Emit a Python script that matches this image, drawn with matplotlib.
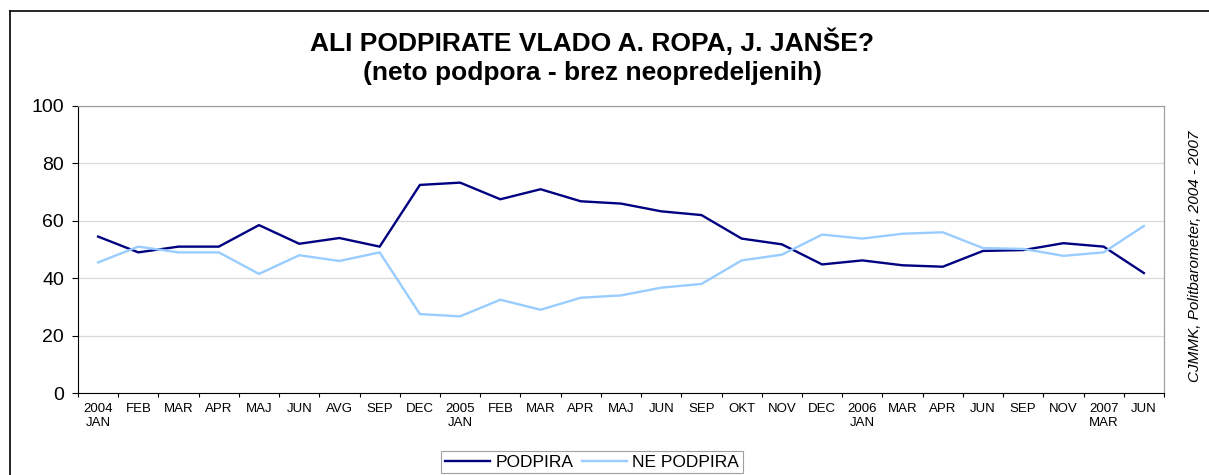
import numpy as np
import matplotlib.pyplot as plt
from matplotlib.lines import Line2D

plt.rcParams['font.family'] = ['Liberation Sans', 'DejaVu Sans']

months = ['2004\nJAN', 'FEB', 'MAR', 'APR', 'MAJ', 'JUN', 'AVG', 'SEP', 'DEC',
          '2005\nJAN', 'FEB', 'MAR', 'APR', 'MAJ', 'JUN', 'SEP', 'OKT', 'NOV', 'DEC',
          '2006\nJAN', 'MAR', 'APR', 'JUN', 'SEP', 'NOV', '2007\nMAR', 'JUN']

podpira = [54.5, 49, 51, 51, 58.5, 52, 54, 51, 72.5, 73.3, 67.5, 71, 66.8, 66,
           63.3, 62, 53.8, 51.8, 44.8, 46.2, 44.5, 44, 49.5, 49.8, 52.2, 51, 41.8]
ne_podpira = [45.5, 51, 49, 49, 41.5, 48, 46, 49, 27.5, 26.7, 32.5, 29, 33.2, 34,
              36.7, 38, 46.2, 48.2, 55.2, 53.8, 55.5, 56, 50.5, 50.2, 47.8, 49, 58.2]


def main():
    fig = plt.figure(figsize=(12.09, 4.75), dpi=100)
    # plot area: x 78..1164 px, y 106..393 px
    ax = fig.add_axes([78 / 1209, 1 - 393 / 475, 1086 / 1209, 287 / 475])
    x = np.arange(len(months))
    ax.plot(x, podpira, color='#000080', lw=1.7, label='PODPIRA')
    ax.plot(x, ne_podpira, color='#99ccff', lw=1.7, label='NE PODPIRA')

    ax.set_xlim(-0.5, len(months) - 0.5)
    ax.set_ylim(0, 100)
    ax.set_yticks(range(0, 101, 20))
    ax.yaxis.grid(True, color='#d9d9d9', lw=0.9)
    ax.set_axisbelow(True)
    ax.set_xticks(np.arange(-0.5, len(months), 1))
    ax.set_xticklabels([])
    ax.set_xticks(x, minor=True)
    ax.set_xticklabels(months, minor=True, fontsize=9.5, va='top', linespacing=1.2)
    ax.tick_params(axis='x', which='minor', length=0, pad=7)
    ax.tick_params(axis='x', which='major', direction='out', length=3)
    ax.tick_params(axis='y', direction='out', length=4, labelsize=14, pad=6)
    for side in ['top', 'right']:
        ax.spines[side].set_color('#a0a0a0')
        ax.spines[side].set_linewidth(0.9)

    fig.text(0.49, 1 - 42 / 475, 'ALI PODPIRATE VLADO A. ROPA, J. JANŠE?',
             ha='center', va='center', fontsize=19, fontweight='bold')
    fig.text(0.49, 1 - 73 / 475, '(neto podpora - brez neopredeljenih)',
             ha='center', va='center', fontsize=19, fontweight='bold')
    fig.text(1195 / 1209, 1 - 256 / 475, 'CJMMK, Politbarometer, 2004 - 2007',
             rotation=90, ha='center', va='center', fontsize=11, style='italic')

    leg = fig.legend(loc='upper center', bbox_to_anchor=(592 / 1209, 1 - 451 / 475),
                     ncol=2, fontsize=12.5, frameon=True, fancybox=False,
                     handlelength=2.6, columnspacing=0.5, handletextpad=0.3,
                     borderpad=0.2, borderaxespad=0)
    leg.get_frame().set_edgecolor('#888888')
    leg.get_frame().set_linewidth(0.8)

    # outer chart border (top and left only visible in the crop)
    top = 1 - 11 / 475
    left = 9.5 / 1209
    fig.lines.append(Line2D([left, 1.0], [top, top], transform=fig.transFigure,
                            color='black', lw=1.2))
    fig.lines.append(Line2D([left, left], [0, top], transform=fig.transFigure,
                            color='black', lw=1.2))

    fig.savefig('out.png', dpi=100)


if __name__ == '__main__':
    main()
